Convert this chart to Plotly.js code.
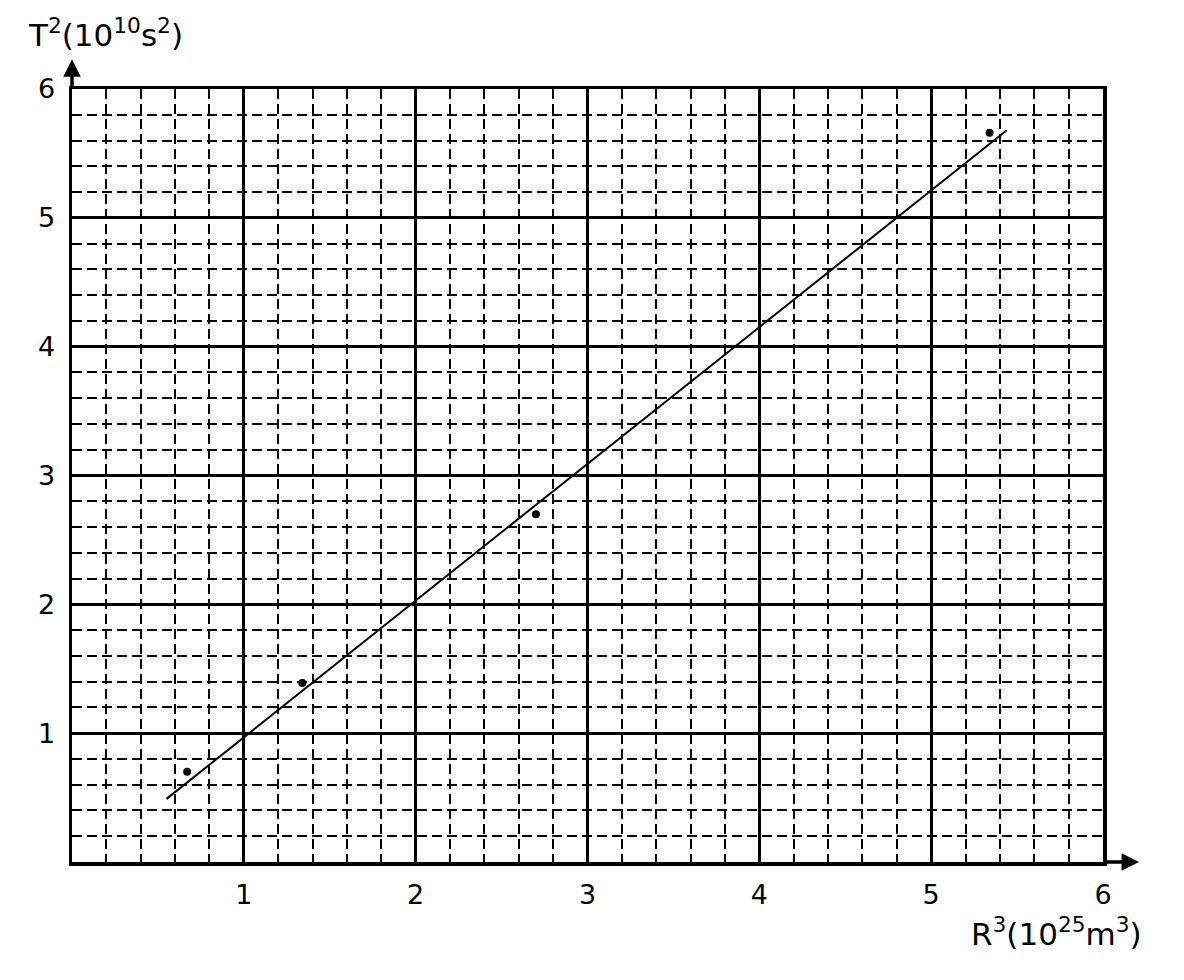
<!DOCTYPE html>
<html>
<head>
<meta charset="utf-8">
<script src="https://cdn.plot.ly/plotly-3.0.1.min.js"></script>
<style>
    html, body { margin: 0; padding: 0; background: #fff; }
    #chart { width: 1184px; height: 980px; }
</style>
</head>
<body>
<div id="chart"></div>
<script>
// measured points, R^3 (10^25 m^3) vs T^2 (10^10 s^2)
const r3 = [0.67, 1.34, 2.70, 5.34];
const t2 = [0.70, 1.39, 2.70, 5.66];

// hand-drawn best fit line, its two ends
const fitX = [0.55, 5.44];
const fitY = [0.49, 5.68];

const tickVals = [1, 2, 3, 4, 5, 6];
const tickText = ['1', '2', '3', '4', '5', '6'];

const INK = '#000';
const FONT = "'DejaVu Sans', sans-serif";

const axisBase = {
    range: [0, 6],
    tickvals: tickVals,
    ticktext: tickText,
    ticks: '',
    showgrid: true,
    gridcolor: INK,
    gridwidth: 3,
    zeroline: false,
    showline: true,
    mirror: true,
    linecolor: INK,
    linewidth: 3.5,
    tickfont: { family: FONT, size: 27, color: INK },
    minor: {
        dtick: 0.2,
        showgrid: true,
        gridcolor: INK,
        gridwidth: 2,
        griddash: '10px,5px'
    },
    fixedrange: true
};

Plotly.newPlot('chart', [
    {
        x: fitX, y: fitY,
        type: 'scatter',
        mode: 'lines',
        line: { color: INK, width: 2 },
        hoverinfo: 'skip',
        showlegend: false
    },
    {
        x: r3, y: t2,
        type: 'scatter',
        mode: 'markers',
        marker: { color: INK, size: 8 },
        showlegend: false
    }
], {
    width: 1184,
    height: 980,
    paper_bgcolor: '#fff',
    plot_bgcolor: '#fff',
    margin: { l: 72, r: 81, t: 89, b: 118 },
    xaxis: Object.assign({}, axisBase, { ticklabelstandoff: 6 }),
    yaxis: Object.assign({}, axisBase, { ticklabelstandoff: 8 }),
    annotations: [
        // axis arrows
        {
            x: 6.21, y: 0, ax: 6, ay: 0,
            xref: 'x', yref: 'y', axref: 'x', ayref: 'y',
            text: '', showarrow: true,
            arrowhead: 2, arrowsize: 1, arrowwidth: 3.5, arrowcolor: INK
        },
        {
            x: 0, y: 6.23, ax: 0, ay: 6,
            xref: 'x', yref: 'y', axref: 'x', ayref: 'y',
            text: '', showarrow: true,
            arrowhead: 2, arrowsize: 1, arrowwidth: 3.5, arrowcolor: INK
        },
        // axis titles
        {
            text: 'T<sup>2</sup>(10<sup>10</sup>s<sup>2</sup>)',
            xref: 'paper', yref: 'paper',
            x: -0.045, y: 1.072,
            xanchor: 'left', yanchor: 'middle',
            showarrow: false,
            font: { family: FONT, size: 31, color: INK }
        },
        {
            text: 'R<sup>3</sup>(10<sup>25</sup>m<sup>3</sup>)',
            xref: 'paper', yref: 'paper',
            x: 1.04, y: -0.09,
            xanchor: 'right', yanchor: 'middle',
            showarrow: false,
            font: { family: FONT, size: 31, color: INK }
        }
    ]
}, { displayModeBar: false, staticPlot: true });
</script>
</body>
</html>
